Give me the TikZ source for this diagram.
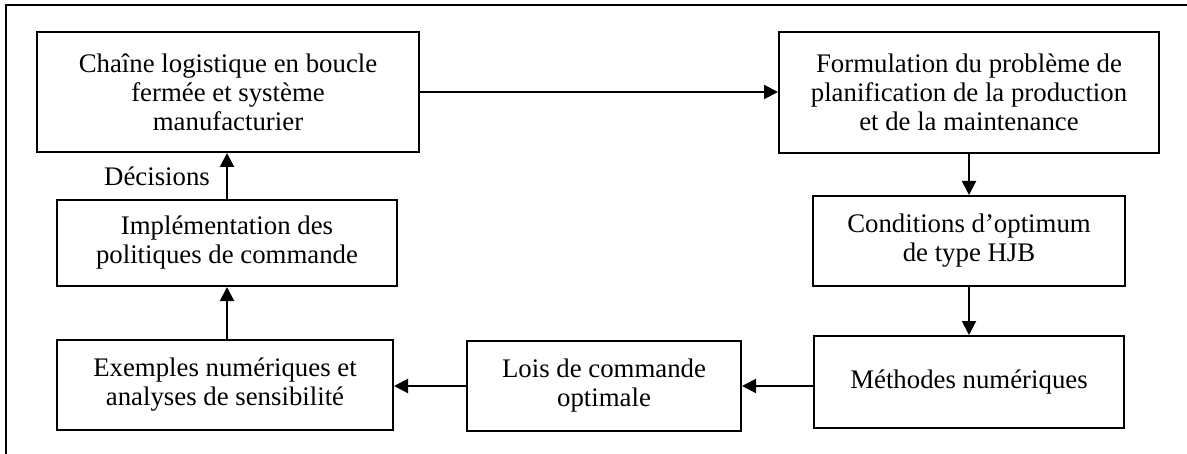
\documentclass[tikz,border=0pt]{standalone}
\usepackage{fontspec}
\setmainfont{Liberation Serif}
\usetikzlibrary{arrows.meta}
\begin{document}
\begin{tikzpicture}[x=0.5pt,y=-0.5pt,
  box/.style={draw, line width=1pt, align=center, inner sep=0pt,
    font=\fontsize{13.4}{14.5}\selectfont},
  lbl/.style={font=\fontsize{13.4}{14.5}\selectfont, inner sep=0pt},
  arr/.style={line width=1pt, -{Triangle[length=7pt,width=7pt]}}]
\useasboundingbox (0,0) rectangle (1187,454);
\draw[line width=1.2pt] (6,470) -- (6,5) -- (1200,5);
\node[box, minimum width=191pt, minimum height=60pt] (b1) at (228,92)
  {Chaîne logistique en boucle\\fermée et système\\manufacturier};
\node[box, minimum width=190pt, minimum height=60.5pt] (b2) at (969,92.5)
  {Formulation du problème de\\planification de la production\\et de la maintenance};
\node[box, minimum width=156pt, minimum height=45pt] (b3) at (969,241)
  {Conditions d’optimum\\de type HJB};
\node[box, minimum width=155pt, minimum height=46pt] (b4) at (969,382)
  {Méthodes numériques};
\node[box, minimum width=137pt, minimum height=45pt] (b5) at (604,386)
  {Lois de commande\\optimale};
\node[box, minimum width=168pt, minimum height=45pt] (b6) at (225,385)
  {Exemples numériques et\\analyses de sensibilité};
\node[box, minimum width=170pt, minimum height=43pt] (b7) at (227,243)
  {Implémentation des\\politiques de commande};
\node[lbl] (dec) at (157,176) {Décisions};
\draw[arr] (b1.east) -- (b1.east -| b2.west);
\draw[arr] (b2.south) -- (b3.north);
\draw[arr] (b3.south) -- (b4.north);
\draw[arr] (b4.west |- b5.center) -- (b5.east);
\draw[arr] (b5.west) -- (b5.west -| b6.east);
\draw[arr] (b6.north -| b7.south) -- (b7.south);
\draw[arr] (b7.north) -- (b7.north |- b1.south);
\end{tikzpicture}
\end{document}
